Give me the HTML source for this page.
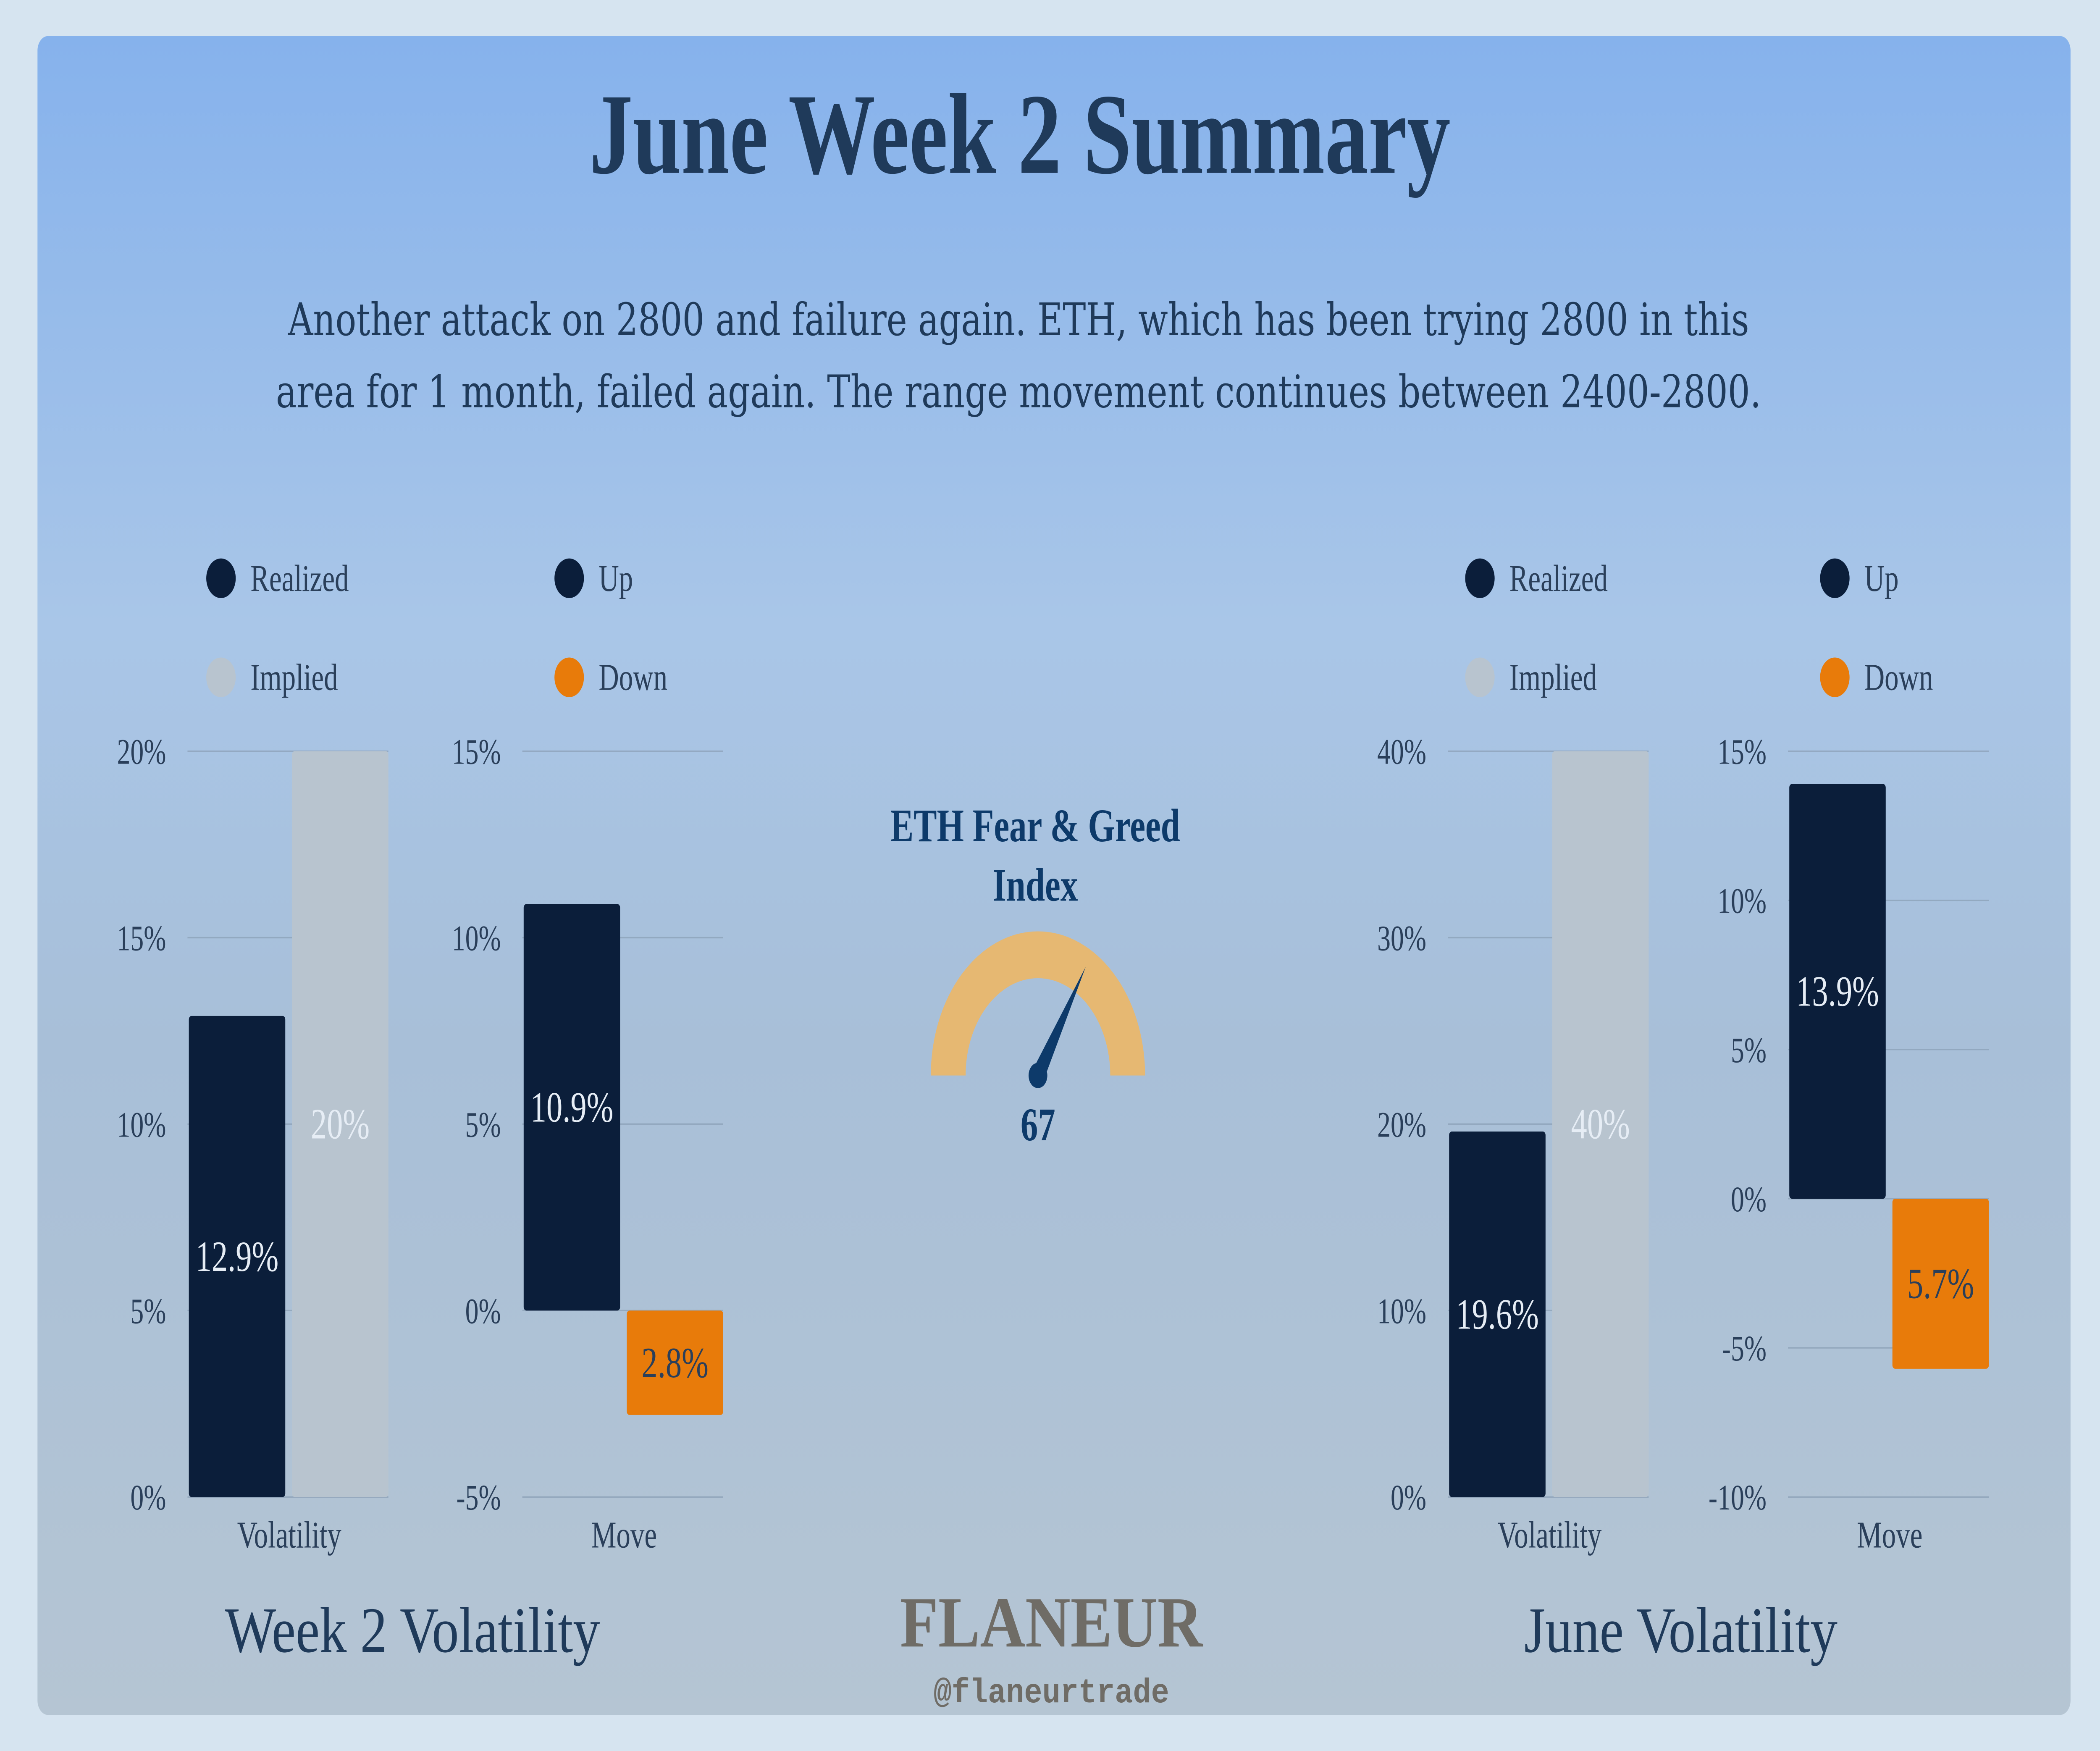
<!DOCTYPE html>
<html><head><meta charset="utf-8"><style>
html,body{margin:0;padding:0;background:#d8e6f2;width:100%;height:100%;overflow:hidden;}
svg{display:block;width:100vw;height:100vh}
</style></head><body>
<svg id="s" xmlns="http://www.w3.org/2000/svg" viewBox="0 0 1568 972" preserveAspectRatio="none">
<defs>
<linearGradient id="bg" x1="0" y1="0" x2="0" y2="1">
<stop offset="0" stop-color="#86b2ec"/><stop offset="0.35" stop-color="#a9c6e8"/><stop offset="0.6" stop-color="#a8bfd8"/><stop offset="1" stop-color="#b5c5d3"/>
</linearGradient>
</defs>
<rect x="0" y="0" width="1568" height="972" fill="#d6e4f0"/>
<rect x="28" y="20" width="1518" height="932" rx="8" fill="url(#bg)"/>
<text x="440" y="96" textLength="643" lengthAdjust="spacingAndGlyphs" font-family="Liberation Serif, serif" font-weight="bold" font-size="64" fill="#1f3a5a">June Week 2 Summary</text>
<text x="215" y="186" textLength="1091" lengthAdjust="spacingAndGlyphs" font-family="DejaVu Serif, serif" font-size="25" fill="#1f3a5a">Another attack on 2800 and failure again. ETH, which has been trying 2800 in this</text>
<text x="206" y="226" textLength="1109" lengthAdjust="spacingAndGlyphs" font-family="DejaVu Serif, serif" font-size="25" fill="#1f3a5a">area  for 1 month, failed again. The range movement continues between 2400-2800.</text>
<text x="168" y="917" textLength="280" lengthAdjust="spacingAndGlyphs" font-family="Liberation Serif, serif" font-size="36" fill="#1f3a5a">Week 2 Volatility</text>
<text x="1138" y="917" textLength="234" lengthAdjust="spacingAndGlyphs" font-family="Liberation Serif, serif" font-size="36" fill="#1f3a5a">June Volatility</text>
<text x="672" y="914" textLength="226" lengthAdjust="spacingAndGlyphs" font-family="Liberation Serif, serif" font-weight="bold" font-size="40" fill="#6f6c66">FLANEUR</text>
<text x="697" y="945" textLength="176" lengthAdjust="spacingAndGlyphs" font-family="Liberation Mono, monospace" font-weight="bold" font-size="19" fill="#6f6c66">@flaneurtrade</text>
<text x="773" y="467" text-anchor="middle" font-family="Liberation Serif, serif" font-weight="bold" font-size="26" fill="#0d3a6a">ETH Fear &amp; Greed</text>
<text x="773" y="500" text-anchor="middle" font-family="Liberation Serif, serif" font-weight="bold" font-size="26" fill="#0d3a6a">Index</text>
<g id="charts"></g>
</svg>
<script>
const NS="http://www.w3.org/2000/svg";
const w2VolCats=["Realized","Implied"];
const w2VolVals=[12.9,20];
const w2VolTicks=[0,5,10,15,20];
const w2MoveCats=["Up","Down"];
const w2MoveVals=[10.9,-2.8];
const w2MoveTicks=[-5,0,5,10,15];
const junVolCats=["Realized","Implied"];
const junVolVals=[19.6,40];
const junVolTicks=[0,10,20,30,40];
const junMoveCats=["Up","Down"];
const junMoveVals=[13.9,-5.7];
const junMoveTicks=[-10,-5,0,5,10,15];
const greedValue=[67];
const greedMax=[100];

const root=document.getElementById('charts');
function mk(tag,attrs,parent){const e=document.createElementNS(NS,tag);for(const k in attrs)e.setAttribute(k,attrs[k]);(parent||root).appendChild(e);return e;}

function chart(cfg){
  const g=mk('g',{});
  
  
  const t=cfg.ticks,min=t[0],max=t[t.length-1];
  const y=v=>831-(v-min)/(max-min)*414;
  t.forEach(v=>{
    const l=mk('line',{x1:cfg.x0,x2:cfg.x0+150,y1:y(v),y2:y(v),stroke:'#8a9fb5','stroke-width':0.8,opacity:0.7},g);
    
    
    const tx=mk('text',{x:cfg.x0-16,y:y(v)+7,'text-anchor':'end','font-family':'Liberation Serif, serif','font-size':20,fill:'#2a3f5a'},g);
    tx.textContent=v+'%';
    
    
  });
  cfg.vals.forEach((v,i)=>{
    const bx=cfg.x0+1+i*77, top=y(Math.max(v,0)), bot=y(Math.min(v,0));
    const r=mk('rect',{x:bx,y:top,width:72,height:bot-top,rx:2,fill:cfg.colors[i]},g);
    
    
    const ly=(top+bot)/2+8;
    const lt=mk('text',{x:bx+36,y:ly,'text-anchor':'middle','font-family':'Liberation Serif, serif','font-size':24,fill:cfg.labelColors[i]},g);
    lt.textContent=(Math.round(v*10)/10===Math.round(v)?Math.abs(v):Math.abs(v).toFixed(1))+'%';
    
    
    const lc=mk('circle',{cx:cfg.legX,cy:321+i*55,r:11,fill:cfg.colors[i]},g);
    
    
    const ltx=mk('text',{x:cfg.legX+22,y:328+i*55,'font-family':'Liberation Serif, serif','font-size':21,fill:'#2a3f5a'},g);
    ltx.textContent=cfg.cats[i];
    
    
  });
  const xl=mk('text',{x:cfg.x0+76,y:859,'text-anchor':'middle','font-family':'Liberation Serif, serif','font-size':21,fill:'#2a3f5a'},g);
  xl.textContent=cfg.xlabel;
  
  
}
const dark='#0b1e3a',light='#b8c4cf',orange='#e87b0a';
chart({name:'week2-volatility-chart',x0:140,ticks:w2VolTicks,vals:w2VolVals,cats:w2VolCats,colors:[dark,light],labelColors:['#e6edf5','#e6edf5'],legX:165,xlabel:'Volatility'});
chart({name:'week2-move-chart',x0:390,ticks:w2MoveTicks,vals:w2MoveVals,cats:w2MoveCats,colors:[dark,orange],labelColors:['#e6edf5','#2a3f5a'],legX:425,xlabel:'Move'});
chart({name:'june-volatility-chart',x0:1081,ticks:junVolTicks,vals:junVolVals,cats:junVolCats,colors:[dark,light],labelColors:['#e6edf5','#e6edf5'],legX:1105,xlabel:'Volatility'});
chart({name:'june-move-chart',x0:1335,ticks:junMoveTicks,vals:junMoveVals,cats:junMoveCats,colors:[dark,orange],labelColors:['#e6edf5','#2a3f5a'],legX:1370,xlabel:'Move'});

const gg=mk('g',{});


const cx=775,cy=597,R=80,r=54;
const arc=mk('path',{d:`M${cx-R},${cy} A${R},${R} 0 0 1 ${cx+R},${cy} L${cx+r},${cy} A${r},${r} 0 0 0 ${cx-r},${cy} Z`,fill:'#e6b872'},gg);


const ang=Math.PI*(1-greedValue[0]/greedMax[0]);
const nx=cx+Math.cos(ang)*70, ny=cy-Math.sin(ang)*70;
const px=-Math.sin(ang)*5, py=-Math.cos(ang)*5;
const nd=mk('path',{d:`M${cx+px},${cy+py} L${nx},${ny} L${cx-px},${cy-py} Z`,fill:'#0d3a6a'},gg);


const hub=mk('circle',{cx:cx,cy:cy,r:7,fill:'#0d3a6a'},gg);


const gv=mk('text',{x:775,y:633,'text-anchor':'middle','font-family':'Liberation Serif, serif','font-weight':'bold','font-size':26,fill:'#0d3a6a'},gg);
gv.textContent=greedValue[0];


</script>
</body></html>
